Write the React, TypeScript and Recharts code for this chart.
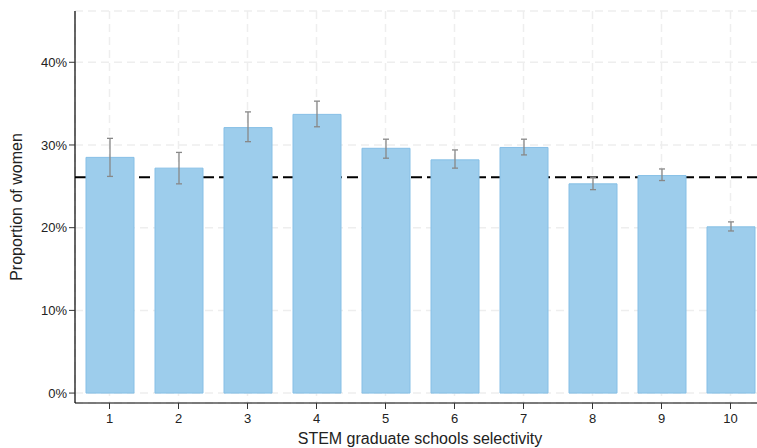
import { Bar, BarChart, CartesianGrid, ErrorBar, ReferenceLine, XAxis, YAxis } from "recharts";

const deciles = ["1", "2", "3", "4", "5", "6", "7", "8", "9", "10"];
const shareWomen = [0.285, 0.272, 0.321, 0.337, 0.296, 0.282, 0.297, 0.253, 0.263, 0.201];
const ciLow = [0.262, 0.253, 0.304, 0.322, 0.284, 0.272, 0.288, 0.246, 0.257, 0.196];
const ciHigh = [0.308, 0.291, 0.34, 0.353, 0.307, 0.294, 0.307, 0.261, 0.271, 0.207];
const overallShare = 0.261;
const yTicks = [0, 0.1, 0.2, 0.3, 0.4];

const data = deciles.map((d, i) => ({
  decile: d,
  share: shareWomen[i],
  ci: [shareWomen[i] - ciLow[i], ciHigh[i] - shareWomen[i]],
}));

const font = "Liberation Sans, Arial, sans-serif";
const tickStyle = { fontSize: 13, fill: "#222", fontFamily: font };

export default function App() {
  return (
    <div style={{ position: "absolute", left: 0, top: 0, width: 757, height: 448, overflow: "hidden", background: "#fff" }}>
      <BarChart
        width={770}
        height={448}
        data={data}
        margin={{ top: 11, right: 5, left: 0, bottom: 0 }}
        barSize={48}
      >
        <CartesianGrid stroke="#eeeeee" strokeDasharray="8 5" strokeWidth={1.5} />
        <XAxis
          dataKey="decile"
          height={45}
          tick={tickStyle}
          tickSize={6}
          tickMargin={5}
          tickLine={{ stroke: "#333" }}
          axisLine={{ stroke: "#000", strokeWidth: 1.2 }}
          label={{
            value: "STEM graduate schools selectivity",
            position: "insideBottom",
            offset: 4,
            style: { fontSize: 16, fill: "#222", fontFamily: font },
          }}
        />
        <YAxis
          width={75}
          domain={[-0.012, 0.462]}
          ticks={yTicks}
          allowDataOverflow
          tickFormatter={(v: number) => `${Math.round(v * 100)}%`}
          tick={tickStyle}
          tickSize={6}
          tickLine={{ stroke: "#333" }}
          axisLine={{ stroke: "#000", strokeWidth: 1.2 }}
          label={{
            value: "Proportion of women",
            angle: -90,
            position: "insideLeft",
            offset: 16,
            style: { fontSize: 16, fill: "#222", textAnchor: "middle", fontFamily: font },
          }}
        />
        <ReferenceLine y={overallShare} stroke="#000" strokeWidth={2.2} strokeDasharray="11 5" zIndex={100} />
        <Bar dataKey="share" fill="#9DCDEC" stroke="#86BFE6" strokeWidth={1} isAnimationActive={false}>
          <ErrorBar dataKey="ci" width={3} stroke="#888" strokeWidth={1.3} isAnimationActive={false} />
        </Bar>
      </BarChart>
    </div>
  );
}
